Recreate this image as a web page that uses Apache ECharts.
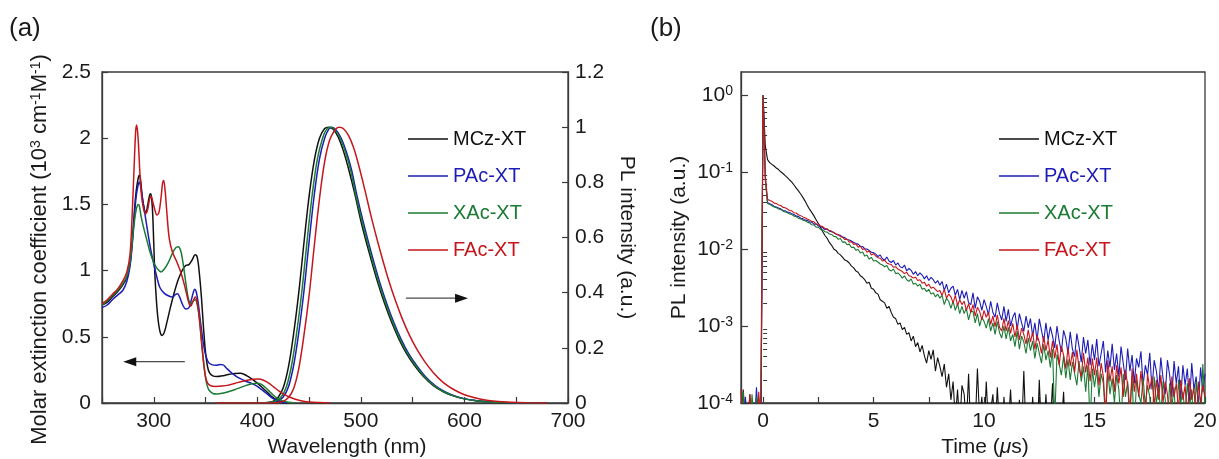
<!DOCTYPE html>
<html>
<head>
<meta charset="utf-8">
<script src="https://cdn.jsdelivr.net/npm/echarts@6/dist/echarts.min.js"></script>
<style>
  html, body { margin: 0; padding: 0; background: #fff; }
  #chart { width: 1219px; height: 459px; }
</style>
</head>
<body>
<div id="chart"></div>
<script>
// ---------- series names and colours ----------
const compounds = ['MCz-XT', 'PAc-XT', 'XAc-XT', 'FAc-XT'];
const colors = ['#111111', '#1c1cb6', '#1b7a33', '#c4161c'];

// ---------- (a) absorption: [wavelength nm, molar extinction 10^3 cm^-1 M^-1] ----------
const absMCz = [[250,0.74],[255,0.76],[260,0.80],[265,0.84],[270,0.89],[274,0.95],[277,1.05],[279,1.2],[281,1.42],[283,1.6],[285,1.7],[286,1.72],[287,1.70],[289,1.55],[291,1.46],[292.5,1.44],[294,1.49],[296,1.57],[297,1.58],[298,1.54],[299,1.42],[300,1.2],[301,0.98],[302.5,0.78],[304,0.64],[306,0.54],[308,0.51],[310,0.53],[313,0.62],[316,0.72],[320,0.84],[324,0.94],[328,1.01],[331,1.04],[334,1.045],[337,1.08],[340,1.12],[342,1.10],[344,0.98],[346,0.8],[348,0.57],[350,0.38],[352,0.27],[354,0.225],[357,0.205],[361,0.2],[366,0.205],[372,0.215],[378,0.222],[384,0.225],[390,0.205],[395,0.18],[400,0.15],[405,0.115],[410,0.078],[415,0.042],[420,0.016],[425,0.004],[430,0]];
const absPAc = [[250,0.72],[255,0.74],[260,0.78],[265,0.815],[270,0.85],[274,0.92],[277,1.03],[279,1.18],[281,1.38],[283,1.56],[285,1.65],[286,1.67],[287,1.65],[289,1.55],[291,1.45],[294,1.30],[297,1.16],[300,1.05],[303,0.95],[306,0.87],[310,0.83],[314,0.81],[318,0.80],[321,0.82],[323,0.825],[325,0.80],[328,0.74],[331,0.71],[334,0.72],[336,0.77],[338,0.83],[339.5,0.86],[341,0.84],[343,0.75],[345,0.62],[347,0.5],[349,0.40],[351,0.34],[353,0.305],[356,0.29],[360,0.285],[364,0.29],[367,0.288],[370,0.265],[374,0.235],[378,0.21],[382,0.19],[386,0.175],[390,0.16],[394,0.15],[398,0.135],[402,0.115],[406,0.09],[410,0.065],[415,0.035],[420,0.013],[425,0.004],[430,0]];
const absXAc = [[250,0.74],[255,0.77],[260,0.81],[265,0.85],[270,0.90],[274,0.96],[277,1.06],[279,1.2],[281,1.35],[283,1.46],[285,1.50],[286,1.49],[288,1.40],[290,1.33],[293,1.24],[296,1.15],[299,1.08],[302,1.03],[305,1.0],[307,0.99],[310,1.01],[314,1.06],[318,1.13],[321,1.17],[323.5,1.18],[326,1.15],[328,1.07],[330,0.96],[332,0.85],[334,0.77],[336,0.75],[338,0.77],[340,0.78],[342,0.74],[344,0.64],[346,0.48],[348,0.32],[350,0.19],[352,0.12],[354,0.09],[357,0.072],[361,0.068],[366,0.073],[372,0.085],[378,0.1],[384,0.118],[390,0.135],[395,0.146],[400,0.15],[404,0.14],[408,0.115],[412,0.085],[416,0.055],[420,0.032],[425,0.014],[430,0.005],[436,0]];
const absFAc = [[250,0.75],[255,0.78],[260,0.82],[265,0.86],[270,0.92],[274,0.99],[277,1.12],[279,1.4],[281,1.78],[282.5,2.05],[283.5,2.10],[285,1.98],[286.5,1.75],[288,1.58],[290,1.47],[292,1.43],[294,1.46],[296,1.54],[297.5,1.56],[299,1.52],[301,1.46],[303,1.42],[305,1.44],[307,1.55],[308.5,1.66],[309.5,1.68],[311,1.6],[313,1.4],[315,1.24],[318,1.14],[322,1.07],[326,0.99],[330,0.88],[333,0.78],[335.5,0.73],[338,0.77],[340,0.80],[342,0.76],[344,0.64],[346,0.47],[348,0.31],[350,0.2],[352,0.15],[355,0.13],[360,0.125],[366,0.128],[372,0.135],[378,0.148],[384,0.16],[390,0.172],[396,0.18],[401,0.182],[406,0.172],[411,0.15],[416,0.12],[421,0.09],[426,0.065],[431,0.045],[436,0.03],[442,0.017],[450,0.008],[460,0.003],[470,0]];

// ---------- (a) photoluminescence: [wavelength nm, normalised PL] ----------
const plMCz = [[360,0],[400,0],[410,0.002],[415,0.006],[420,0.02],[425,0.055],[430,0.13],[435,0.25],[440,0.40],[445,0.58],[450,0.75],[455,0.88],[460,0.96],[465,0.995],[469,1.0],[473,0.993],[478,0.965],[483,0.915],[488,0.85],[494,0.76],[500,0.66],[508,0.545],[516,0.44],[523,0.36],[530,0.29],[537,0.23],[544,0.18],[552,0.135],[560,0.098],[570,0.063],[580,0.04],[590,0.025],[600,0.015],[610,0.009],[620,0.005],[635,0.002],[650,0.0005],[680,0]];
const plPAc = [[360,0],[407,0],[415,0.003],[420,0.008],[425,0.022],[430,0.058],[435,0.135],[440,0.255],[445,0.405],[450,0.585],[455,0.755],[460,0.885],[465,0.96],[469,0.993],[472,1.0],[476,0.99],[481,0.96],[486,0.91],[491,0.845],[496,0.755],[502,0.66],[510,0.545],[518,0.44],[525,0.36],[532,0.29],[539,0.23],[546,0.18],[554,0.135],[562,0.097],[572,0.062],[582,0.039],[592,0.024],[602,0.014],[612,0.008],[622,0.0045],[637,0.0015],[652,0.0004],[680,0]];
const plXAc = [[360,0],[405,0],[413,0.003],[418,0.008],[423,0.022],[428,0.058],[433,0.135],[438,0.255],[443,0.405],[448,0.585],[453,0.755],[458,0.885],[463,0.96],[467,0.993],[471,1.0],[475,0.99],[480,0.96],[485,0.91],[490,0.845],[495,0.755],[501,0.66],[509,0.545],[517,0.44],[524,0.36],[531,0.29],[538,0.23],[545,0.18],[553,0.135],[561,0.097],[571,0.062],[581,0.039],[591,0.024],[601,0.014],[611,0.008],[621,0.0045],[636,0.0015],[650,0.0004],[680,0]];
const plFAc = [[360,0],[413,0],[420,0.002],[425,0.006],[430,0.02],[435,0.052],[440,0.125],[445,0.245],[450,0.39],[455,0.57],[460,0.74],[465,0.875],[470,0.955],[475,0.99],[479,1.0],[483,0.995],[488,0.97],[493,0.925],[498,0.86],[504,0.77],[510,0.675],[518,0.56],[526,0.455],[533,0.375],[540,0.305],[547,0.245],[554,0.195],[562,0.148],[570,0.11],[580,0.073],[590,0.048],[600,0.03],[610,0.019],[620,0.011],[630,0.006],[645,0.0025],[660,0.0008],[680,0]];

// ---------- (b) transient PL decay: counts, one every 0.1 µs from -1 µs, peak = 10000 ----------
const decayStart = -1.0;
const decayStep = 0.1;
const decayPeak = 10000;
const decayMCz = [0.5,1.5,0.6,0.4,1.3,0.5,0.3,1.2,0.6,0.4, 10000,
  2200,1450,1330,1260,1200,1130,1080,1010,960,900,
  850,790,740,680,620,570,520,470,420,370,
  330,300,270,240,215,190,168,150,138,122,
  112,100,96,88,84,78,72,70,66,60,
  57,52,50,45,43,40,36,37,31,30,
  27,26,22,21,20,17,18,15,13,12.5,
  10.5,11,9.0,9.6,7.8,8.2,6.4,7.4,5.4,6.1,
  4.6,5.6,4.1,3.3,4.8,3.7,4.9,2.6,3.9,3.0,
  2.2,3.2,1.6,2.4,1.1,1.9,0.6,1.5,0.5,1.7,
  1.3,0.5,2.4,0.4,1.0,0.5,2.8,0.6,1.2,0.4,
  1.9,0.5,0.8,1.3,0.4,1.6,0.5,0.3,1.2,0.4,
  0.5,1.5,0.4,0.9,0.3,1.1,0.4,2.6,0.4,0.5,
  0.3,1.2,0.4,0.3,2.0,0.4,0.3,1.3,0.4,0.5,
  1.8,0.3,0.4,0.3,0.5,1.4,0.3,0.4,0.3,0.4,
  0.4,0.3,0.5,0.3,0.4,0.3,0.4,0.3,0.5,0.4,
  0.3,0.4,0.3,0.5,0.3,0.4,0.3,0.4,0.3,0.4,
  0.4,0.3,0.4,0.3,0.5,0.3,0.4,0.3,0.4,0.3,
  0.3,0.4,0.3,0.4,0.3,0.5,0.3,0.4,0.3,0.4,
  0.4,0.3,0.5,0.3,0.4,0.3,0.4,0.3,0.4,0.3,
  0.3,0.4,0.3,0.4,0.3,0.4,0.3,0.5,0.3,0.4];
const decayPAc = [0.6,0.4,1.2,0.5,0.3,0.6,0.4,1.6,0.5,0.4, 10000,
  850,402,388,379,358,352,341,333,318,314,
  302,299,287,281,268,266,252,249,238,236,
  226,224,211,212,199,197,189,180,182,171,
  168,164,157,153,151,143,141,133,131,127,
  122,118,116,109,108,101,100,96,91,90,
  86,80,84,75,72,79,70,67,71,62,
  66,59,57,62,52,56,53,47,51,45,
  49,46,41,45,39,43,40,36,39,34,
  38,29,35,27,31,33,25,30,22,29,
  23,28,20,19,27,17,24,21,16,22,
  18,14,21,15,13,20,14.5,12,18,11.5,
  16.5,10,13,15,9,14.5,11,8.5,13.5,9.5,
  12.5,7.4,11,6.5,12.4,8.8,6.2,11,6.6,9.8,
  7.4,5.2,10,6.4,4.6,8.8,6.9,4.4,8.4,5.0,
  4.0,8.0,5.4,3.4,7.2,4.4,6.6,3.1,5.8,3.6,
  6.8,3.0,4.4,6.4,2.5,4.8,2.9,5.9,2.7,4.4,
  2.2,5.4,3.3,2.0,5.1,2.6,4.2,1.8,3.8,2.9,
  4.7,1.7,3.1,2.3,4.5,1.5,3.6,2.6,1.4,3.9,
  2.1,1.3,3.6,2.3,1.2,3.5,1.8,3.0,1.1,3.1,
  1.7,2.8,1.0,3.3,1.5,2.2,0.9,2.9,1.4,2.4];
const decayXAc = [0.4,1.4,0.5,0.6,0.4,1.3,0.5,1.2,0.4,1.5, 10000,
  780,392,381,366,352,346,331,327,311,303,
  296,286,281,268,264,252,247,238,233,224,
  219,207,206,193,192,180,178,168,166,157,
  155,146,145,134,137,123,124,114,116,105,
  106,97,99,89,92,81,84,74,78,70,
  71,68,64,62,59,61,54,52,55,48,
  49,46,42,45,40,38,41,35,36,33,
  35,30,31,28,30,26,27,24,26,23,
  25,19,23,21,17,21,16,19.5,14.5,18,
  14.5,17,12,15.5,15.5,11,14.5,10,13,11.5,
  9.4,12.5,8.6,11,7.8,11.4,8.2,7.0,10,6.8,
  9.6,6.4,7.8,5.4,8.6,5.0,7.4,6.2,4.4,7.0,
  4.8,6.4,3.8,6.0,4.4,3.3,5.8,3.6,4.8,2.9,
  5.0,0.6,4.3,3.2,2.3,4.1,2.1,3.7,2.0,3.4,
  2.4,1.7,3.5,1.9,3.0,1.4,3.1,0.5,2.8,1.6,
  2.7,1.2,2.4,1.8,0.6,2.6,1.3,2.1,1.0,2.3,
  1.5,0.5,2.4,1.2,1.9,0.8,2.2,0.4,2.0,1.3,
  1.0,2.1,0.9,1.7,1.2,0.4,2.2,1.0,1.6,0.7,
  1.9,1.1,0.5,1.8,0.9,1.6,0.4,2.0,1.0,1.4,
  0.7,1.8,0.9,1.5,0.4,1.9,1.0,0.5,3.2,0.9];
const decayFAc = [1.5,0.5,0.4,0.6,1.3,0.4,0.5,0.3,1.4,0.6, 10000,
  900,445,428,418,396,392,373,368,348,344,
  331,318,314,296,294,279,272,262,255,246,
  238,229,226,212,210,199,196,184,183,174,
  171,163,157,154,145,143,133,135,123,125,
  115,117,106,109,99,101,91,95,84,87,
  81,77,76,70,72,66,64,63,58,59,
  55,53,51,48,50,45,44,42,43,39,
  40,36,37,33,35,31,32,30,28,29,
  25,30,23,26,24,20,25,18.5,22,19,
  21,16,19.5,15,19,13.5,17.5,15.5,12,16,
  13,15,10.5,13.5,9.8,14,9.6,8.6,12.6,8.6,
  11.8,8.0,10.8,7.2,10.4,6.6,9.4,7.8,5.8,8.9,
  6.2,8.4,5.0,7.6,6.2,4.4,7.4,4.8,6.6,3.9,
  6.4,3.8,5.8,3.1,5.5,4.2,2.8,5.2,3.0,4.6,
  2.5,4.9,2.8,2.2,4.5,2.5,3.9,1.9,3.8,2.3,
  3.9,1.7,3.3,2.2,0.7,3.6,1.9,3.0,1.4,3.1,
  1.8,2.9,1.2,2.7,1.7,0.6,2.8,1.4,2.4,1.2,
  2.6,1.3,0.7,2.4,1.5,2.2,0.9,2.0,1.1,2.3,
  1.0,1.9,1.3,0.5,2.2,1.2,1.8,0.8,2.0,1.1,
  1.7,0.6,2.1,1.1,1.6,0.5,1.9,1.0,1.7,1.2];

// ---------- tick values ----------
const timeLabelValues = [0, 5, 10, 15, 20];
const timeTickValues = [0, 2.5, 5, 7.5, 10, 12.5, 15, 17.5, 20];
const decadeValues = [1e-4, 1e-3, 1e-2, 1e-1, 1];
const minorLogValues = [];
[1e-4, 1e-3, 1e-2, 1e-1].forEach(d => { for (let k = 2; k <= 9; k++) minorLogValues.push(+(k * d).toPrecision(3)); });

const absSets = [absMCz, absPAc, absXAc, absFAc];
const plSets = [plMCz, plPAc, plXAc, plFAc];
const decaySets = [decayMCz, decayPAc, decayXAc, decayFAc];

const FONT = '"Liberation Sans", Arial, Helvetica, sans-serif';
const TXT = '#1a1a1a';
const AX = '#3a3a3a';
const FS = 21;

const chart = echarts.init(document.getElementById('chart'), null, { renderer: 'canvas' });

const baseLabel = { fontFamily: FONT, fontSize: FS, color: TXT };
const axisLineStyle = { show: true, onZero: false, lineStyle: { color: AX, width: 1.3 } };

function toDecay(counts) {
  return counts.map((c, i) => [+(decayStart + i * decayStep).toFixed(2), c / decayPeak]);
}

const series = [];
compounds.forEach((name, i) => {
  series.push({
    name, type: 'line', xAxisIndex: 0, yAxisIndex: 0, data: absSets[i],
    symbol: 'none', smooth: 0.35, lineStyle: { color: colors[i], width: 1.5 },
    itemStyle: { color: colors[i] }, z: 2 + i
  });
  series.push({
    name, type: 'line', xAxisIndex: 0, yAxisIndex: 1, data: plSets[i],
    symbol: 'none', smooth: 0.35, lineStyle: { color: colors[i], width: 1.5 },
    itemStyle: { color: colors[i] }, z: 2 + i
  });
});
compounds.forEach((name, i) => {
  series.push({
    name, type: 'line', xAxisIndex: 1, yAxisIndex: 2, data: toDecay(decaySets[i]),
    symbol: 'none', clip: true, lineStyle: { color: colors[i], width: 1.1 },
    itemStyle: { color: colors[i] }, z: 2 + i
  });
});

function legendAt(left) {
  return {
    left, top: 124, orient: 'vertical', itemWidth: 40, itemHeight: 1.6, itemGap: 17,
    icon: 'rect', selectedMode: false,
    textStyle: { fontFamily: FONT, fontSize: 20, lineHeight: 20 },
    data: compounds.map((n, i) => ({ name: n, icon: 'rect', itemStyle: { color: colors[i] }, textStyle: { color: colors[i] } }))
  };
}

const sup = { fontFamily: FONT, fontSize: 14, color: TXT, verticalAlign: 'top', lineHeight: 12 };

chart.setOption({
  animation: false,
  backgroundColor: '#fff',
  grid: [
    { left: 102, top: 72, width: 466, height: 331, containLabel: false, outerBoundsMode: 'none',
      show: true, borderColor: AX, borderWidth: 1.3, backgroundColor: 'transparent' },
    { left: 741, top: 72, width: 464, height: 331, containLabel: false, outerBoundsMode: 'none',
      show: true, borderColor: AX, borderWidth: 1.3, backgroundColor: 'transparent' }
  ],
  legend: [legendAt(403), legendAt(994)],
  xAxis: [
    {
      gridIndex: 0, type: 'value', min: 250, max: 700, interval: 50,
      axisLine: axisLineStyle,
      axisTick: { inside: true, length: 6, lineStyle: { color: AX, width: 1.2 } },
      axisLabel: Object.assign({}, baseLabel, { margin: 8, formatter: v => (v % 100 === 0 ? String(v) : '') }),
      splitLine: { show: false },
      name: 'Wavelength (nm)', nameLocation: 'middle', nameGap: 33,
      nameTextStyle: Object.assign({}, baseLabel, { lineHeight: 21, padding: [0, 0, 0, 24] })
    },
    {
      gridIndex: 1, type: 'value', min: -1, max: 20,
      axisLine: axisLineStyle,
      axisTick: { inside: true, length: 6, customValues: timeTickValues, lineStyle: { color: AX, width: 1.2 } },
      axisLabel: Object.assign({}, baseLabel, { margin: 8, customValues: timeLabelValues }),
      splitLine: { show: false },
      name: 'Time ({it|μ}s)', nameLocation: 'middle', nameGap: 33,
      nameTextStyle: Object.assign({}, baseLabel, {
        lineHeight: 21, padding: [0, 0, 0, 24],
        rich: { it: { fontFamily: FONT, fontSize: FS, color: TXT, fontStyle: 'italic', lineHeight: 21 } }
      })
    }
  ],
  yAxis: [
    {
      gridIndex: 0, type: 'value', min: 0, max: 2.5, interval: 0.5, position: 'left',
      axisLine: axisLineStyle,
      axisTick: { inside: true, length: 6, lineStyle: { color: AX, width: 1.2 } },
      axisLabel: Object.assign({}, baseLabel, { margin: 11 }),
      splitLine: { show: false },
      name: 'Molar extinction coefficient (10{sup|3} cm{sup|-1}M{sup|-1})',
      nameLocation: 'middle', nameRotate: 90, nameGap: 51,
      nameTextStyle: { fontFamily: FONT, fontSize: 22, color: TXT, lineHeight: 22, padding: [0, 24, 0, 0], rich: { sup } }
    },
    {
      gridIndex: 0, type: 'value', min: 0, max: 1.2, interval: 0.2, position: 'right',
      axisLine: axisLineStyle,
      axisTick: { inside: true, length: 6, lineStyle: { color: AX, width: 1.2 } },
      axisLabel: Object.assign({}, baseLabel, { margin: 7 }),
      splitLine: { show: false },
      name: 'PL intensity (a.u.)', nameLocation: 'middle', nameRotate: -90, nameGap: 48,
      nameTextStyle: Object.assign({}, baseLabel, { lineHeight: 21 })
    },
    {
      gridIndex: 1, type: 'log', logBase: 10, min: 1e-4, max: 2, position: 'left',
      axisLine: axisLineStyle,
      axisTick: { inside: true, length: 7, customValues: decadeValues, lineStyle: { color: AX, width: 1.2 } },
      axisLabel: Object.assign({}, baseLabel, {
        margin: 8, customValues: decadeValues,
        formatter: v => '{b|10}{e|' + Math.round(Math.log10(v)) + '}',
        rich: {
          b: { fontFamily: FONT, fontSize: FS, color: TXT, lineHeight: 22 },
          e: { fontFamily: FONT, fontSize: 14, color: TXT, lineHeight: 12, verticalAlign: 'top' }
        }
      }),
      splitLine: { show: false },
      name: 'PL intensity (a.u.)', nameLocation: 'middle', nameRotate: 90, nameGap: 51,
      nameTextStyle: Object.assign({}, baseLabel, { lineHeight: 21 })
    },
    {
      // minor ticks of the logarithmic axis (2..9 within each decade)
      gridIndex: 1, type: 'log', logBase: 10, min: 1e-4, max: 2, position: 'left',
      axisLine: { show: false },
      axisTick: { inside: true, length: 4, customValues: minorLogValues, lineStyle: { color: AX, width: 1 } },
      axisLabel: { show: false },
      splitLine: { show: false }
    }
  ],
  series
});

// panel letters and the arrows that point each curve family to its axis
function arrow(p1, p2) {
  const dir = Math.sign(p2[0] - p1[0]);
  return {
    type: 'group', silent: true, children: [
      { type: 'line', shape: { x1: p1[0], y1: p1[1], x2: p2[0] - dir * 9, y2: p2[1] },
        style: { stroke: '#4a4a4a', lineWidth: 1.3 } },
      { type: 'polygon', shape: { points: [[p2[0], p2[1]], [p2[0] - dir * 13, p2[1] - 4.5], [p2[0] - dir * 13, p2[1] + 4.5]] },
        style: { fill: '#111' } }
    ]
  };
}
const leftTail = chart.convertToPixel({ xAxisIndex: 0, yAxisIndex: 0 }, [330, 0.312]);
const leftTip = chart.convertToPixel({ xAxisIndex: 0, yAxisIndex: 0 }, [270.5, 0.312]);
const rightTail = chart.convertToPixel({ xAxisIndex: 0, yAxisIndex: 1 }, [543.5, 0.38]);
const rightTip = chart.convertToPixel({ xAxisIndex: 0, yAxisIndex: 1 }, [603.5, 0.38]);

chart.setOption({
  graphic: [
    { type: 'text', left: 9, top: 16, style: { text: '(a)', font: '26px ' + FONT, fill: TXT } },
    { type: 'text', left: 650, top: 16, style: { text: '(b)', font: '26px ' + FONT, fill: TXT } },
    arrow(leftTail, leftTip),
    arrow(rightTail, rightTip)
  ]
});
</script>
</body>
</html>
